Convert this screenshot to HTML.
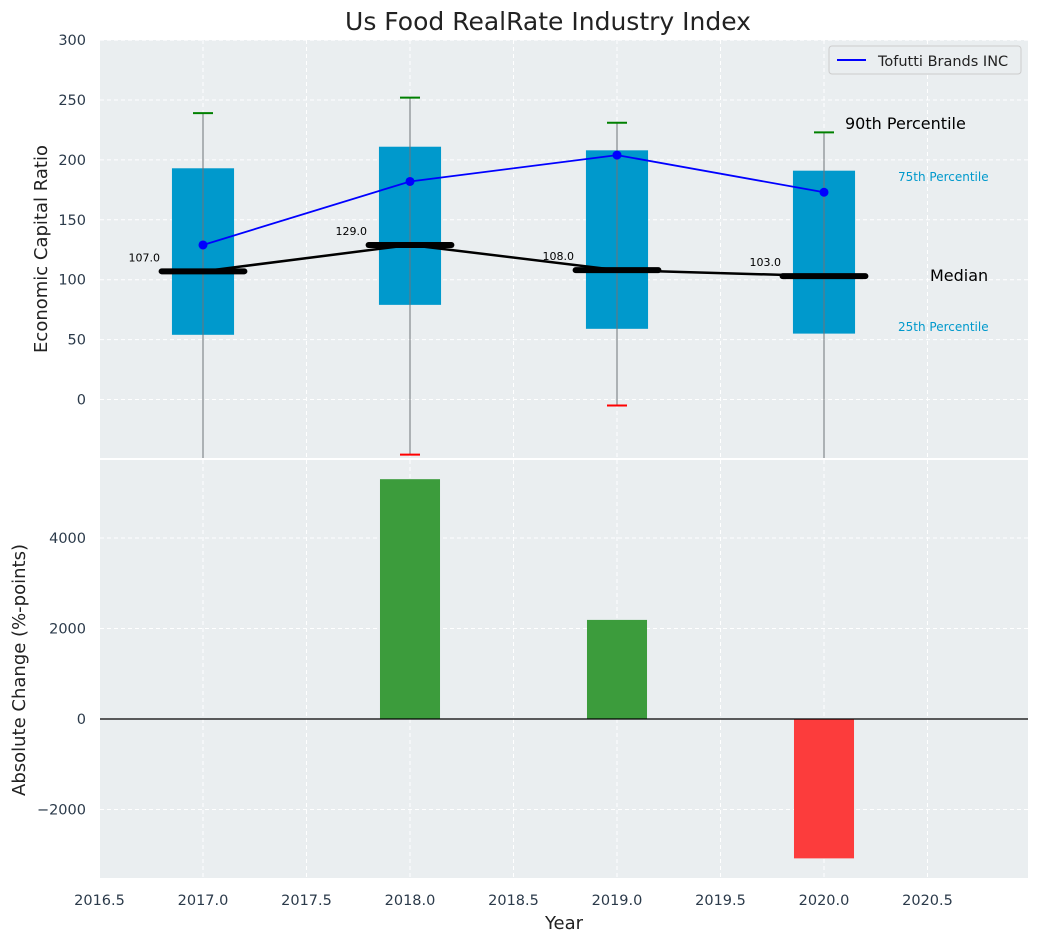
<!DOCTYPE html>
<html><head><meta charset="utf-8"><style>
body{margin:0;background:#fff;font-family:"Liberation Sans","DejaVu Sans",sans-serif}
svg text{font-family:"DejaVu Sans","Liberation Sans",sans-serif}
</style></head><body>
<svg id="c" width="1039" height="942" xmlns="http://www.w3.org/2000/svg">
<defs>
<clipPath id="cpTop"><rect x="100" y="40" width="928" height="418"/></clipPath>
<clipPath id="cpBot"><rect x="100" y="460" width="928" height="418"/></clipPath>
</defs>
<rect x="100" y="40" width="928" height="418" fill="#eaeef0"/>
<rect x="100" y="460" width="928" height="418" fill="#eaeef0"/>
<text x="548" y="30" font-size="25" text-anchor="middle" fill="#222">Us Food RealRate Industry Index</text>
<g id="gTop" clip-path="url(#cpTop)"></g>
<g id="gBot" clip-path="url(#cpBot)"></g>
<g id="gAx"></g>
</svg>
<script>
const years=[2017,2018,2019,2020];
const p25=[54,79,59,55];
const p75=[193,211,208,191];
const p90=[239,252,231,223];
const p10=[-80,-46,-5,-80];
const medians=[107,129,108,103];
const company=[129,182,204,173];
const changes=[0,5300,2190,-3080];
const xTicks=[2016.5,2017.0,2017.5,2018.0,2018.5,2019.0,2019.5,2020.0,2020.5];
const yTopTicks=[0,50,100,150,200,250,300];
const yBotTicks=[-2000,0,2000,4000];

const NS="http://www.w3.org/2000/svg";
const X=v=>99.5+(v-2016.5)*207;
const YT=v=>399.5-v*1.198;
const YB=v=>719-v*0.04525;
function mk(tag,attrs,parent,txt){const e=document.createElementNS(NS,tag);for(const k in attrs)e.setAttribute(k,attrs[k]);if(txt!==undefined)e.textContent=txt;parent.appendChild(e);return e;}
const gT=document.getElementById('gTop'),gB=document.getElementById('gBot'),gA=document.getElementById('gAx');

xTicks.forEach(t=>{
 let l=mk('line',{x1:X(t),x2:X(t),y1:40,y2:458,stroke:'#fff','stroke-dasharray':'4,3','stroke-width':1},gT);
 
 let l2=mk('line',{x1:X(t),x2:X(t),y1:460,y2:878,stroke:'#fff','stroke-dasharray':'4,3','stroke-width':1},gB);
 
 let tx=mk('text',{x:X(t),y:905,'font-size':14.5,'text-anchor':'middle',fill:'#2b3a4a'},gA,t.toFixed(1));
 
});
yTopTicks.forEach(t=>{
 let l=mk('line',{x1:100,x2:1028,y1:YT(t),y2:YT(t),stroke:'#fff','stroke-dasharray':'4,3'},gT);
 
 let tx=mk('text',{x:86,y:YT(t)+5,'font-size':14.5,'text-anchor':'end',fill:'#2b3a4a'},gA,t);
 
});
yBotTicks.forEach(t=>{
 let l=mk('line',{x1:100,x2:1028,y1:YB(t),y2:YB(t),stroke:'#fff','stroke-dasharray':'4,3'},gB);
 
 let tx=mk('text',{x:86,y:YB(t)+5,'font-size':14.5,'text-anchor':'end',fill:'#2b3a4a'},gA,t<0?'\u2212'+Math.abs(t):t);
 
});

years.forEach((y,i)=>{
 let b=mk('rect',{x:X(y-0.15),y:YT(p75[i]),width:0.3*207,height:YT(p25[i])-YT(p75[i]),fill:'#0099cc'},gT);
 
 let w=mk('line',{x1:X(y),x2:X(y),y1:YT(p10[i]),y2:YT(p90[i]),stroke:'#6f7478','stroke-width':1},gT);
 
 let c=mk('line',{x1:X(y)-10,x2:X(y)+10,y1:YT(p90[i]),y2:YT(p90[i]),stroke:'green','stroke-width':2},gT);
 
 let c2=mk('line',{x1:X(y)-10,x2:X(y)+10,y1:YT(p10[i]),y2:YT(p10[i]),stroke:'red','stroke-width':2},gT);
 
 let m=mk('line',{x1:X(y-0.2),x2:X(y+0.2),y1:YT(medians[i]),y2:YT(medians[i]),stroke:'#000','stroke-width':6,'stroke-linecap':'round'},gT);
 
 let t=mk('text',{x:X(y)-43,y:YT(medians[i])-10,'font-size':11,'text-anchor':'end',fill:'#000'},gT,medians[i].toFixed(1));
 
});
let mp=mk('polyline',{points:years.map((y,i)=>X(y)+','+YT(medians[i])).join(' '),fill:'none',stroke:'#000','stroke-width':2.5},gT);

let cp=mk('polyline',{points:years.map((y,i)=>X(y)+','+YT(company[i])).join(' '),fill:'none',stroke:'blue','stroke-width':1.8},gT);

years.forEach((y,i)=>{let d=mk('circle',{cx:X(y),cy:YT(company[i]),r:4.5,fill:'blue'},gT);
 });

[['90th Percentile',845,129,16,'#000'],['75th Percentile',898,181,12,'#0099cc'],['Median',930,281,16,'#000'],['25th Percentile',898,331,12,'#0099cc']].forEach(a=>{
 let t=mk('text',{x:a[1],y:a[2],'font-size':a[3],fill:a[4]},gT,a[0]);
 
});

years.forEach((y,i)=>{
 if(changes[i]===0)return;
 let v=changes[i];
 let r=mk('rect',{x:X(y-0.145),y:Math.min(YB(v),YB(0)),width:0.29*207,height:Math.abs(YB(v)-YB(0)),fill:v>0?'#3c9c3c':'#fc3c3c'},gB);
 
});
let z=mk('line',{x1:100,x2:1028,y1:YB(0),y2:YB(0),stroke:'#000','stroke-width':1.2},gB);


let t1=mk('text',{x:0,y:0,'font-size':18,'text-anchor':'middle',fill:'#222',transform:'translate(47,249) rotate(-90)'},gA,'Economic Capital Ratio');

let t2=mk('text',{x:0,y:0,'font-size':18,'text-anchor':'middle',fill:'#222',transform:'translate(25,670) rotate(-90)'},gA,'Absolute Change (%-points)');

let t3=mk('text',{x:564,y:929,'font-size':18,'text-anchor':'middle',fill:'#222'},gA,'Year');


let lg=mk('g',{},gA);

mk('rect',{x:829,y:46,width:192,height:28,rx:3,fill:'#eaeef0',stroke:'#ccc'},lg);
mk('line',{x1:837,x2:866,y1:60,y2:60,stroke:'blue','stroke-width':2},lg);
let lt=mk('text',{x:878,y:66,'font-size':14.5,fill:'#222'},lg,'Tofutti Brands INC');

</script>
</body></html>
